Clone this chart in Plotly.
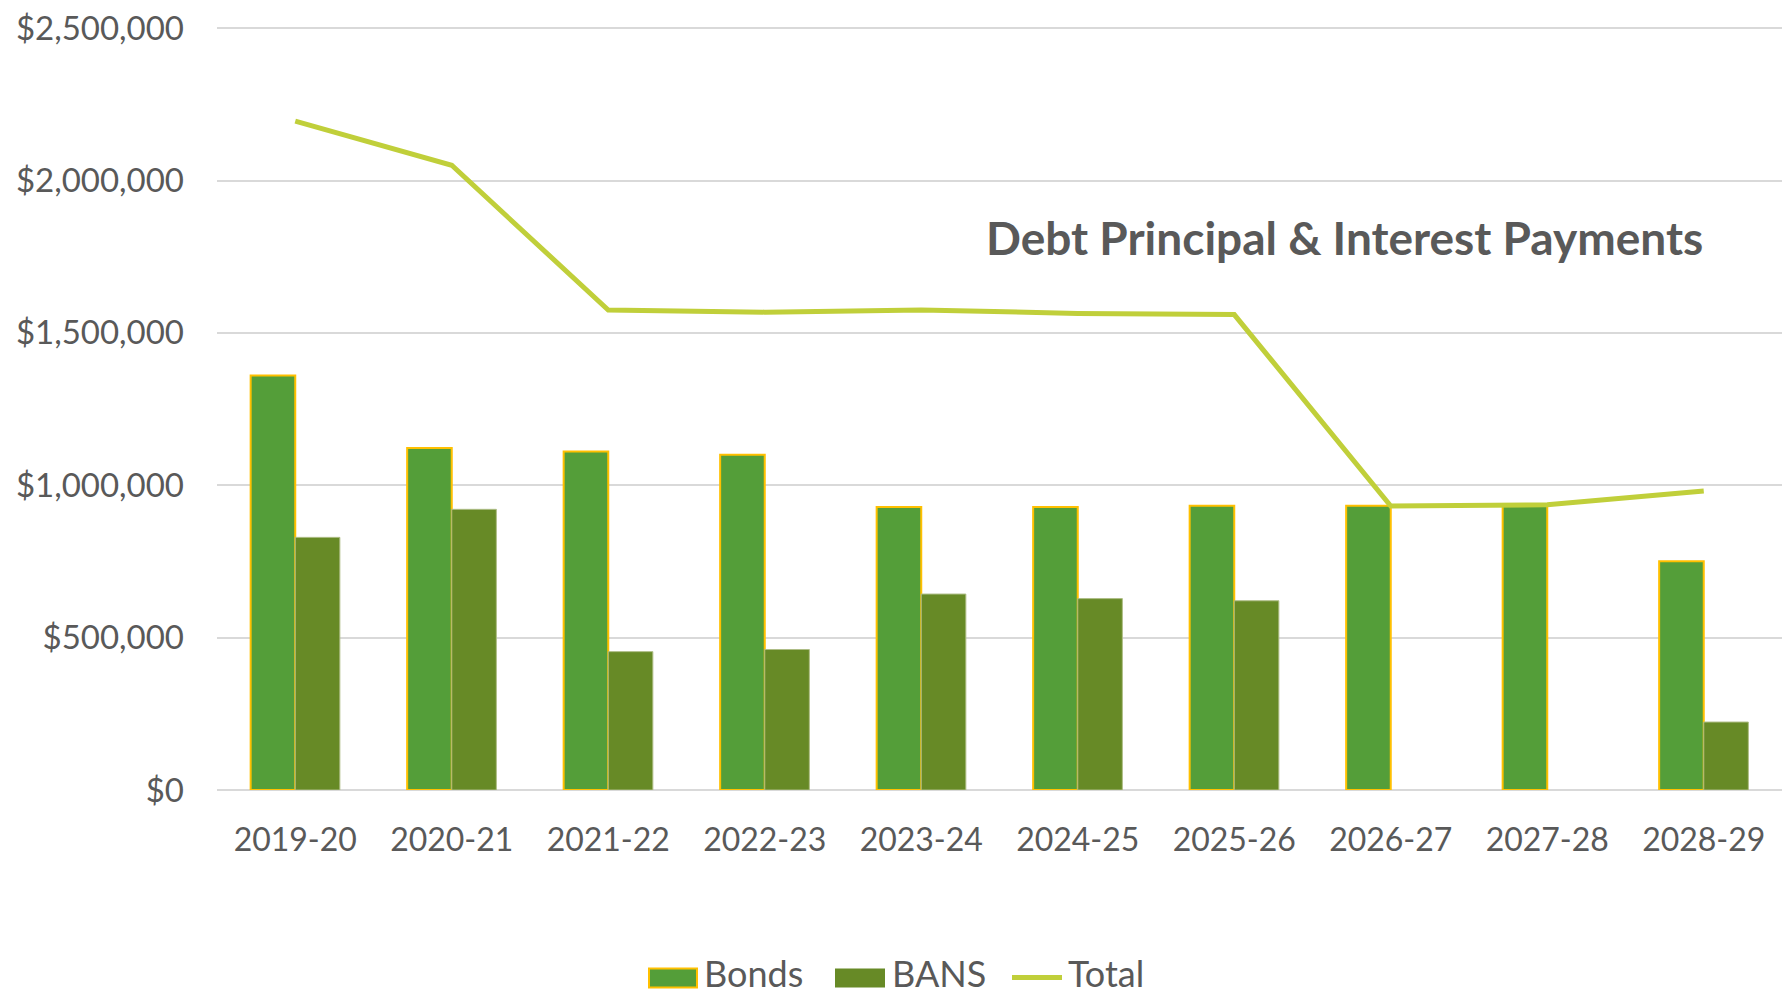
import plotly.graph_objects as go

# Fiscal years and payment amounts (USD)
years = ["2019-20", "2020-21", "2021-22", "2022-23", "2023-24",
         "2024-25", "2025-26", "2026-27", "2027-28", "2028-29"]
bonds = [1360000, 1122000, 1111000, 1100000, 929000,
         929000, 933000, 933000, 933000, 751000]
bans = [829000, 921000, 454000, 461000, 643000,
        628000, 621000, 0, 0, 223000]
total = [2195000, 2050000, 1575000, 1568000, 1575000,
         1564000, 1560000, 932000, 936000, 981000]

y_ticks = [0, 500000, 1000000, 1500000, 2000000, 2500000]
y_tick_labels = ["$0", "$500,000", "$1,000,000", "$1,500,000",
                 "$2,000,000", "$2,500,000"]
y_max = 2507000  # a little headroom so the top gridline is kept

BONDS_COLOR = "#549E39"
BONDS_EDGE = "#FFC000"
BANS_COLOR = "#678A26"
BANS_EDGE = "#AEBD86"
TOTAL_COLOR = "#C0CF3A"
TEXT_COLOR = "#595959"
GRID_COLOR = "#D9D9D9"
FONT = "Lato, 'Open Sans', sans-serif"

W, H = 1789, 999
M_L, M_R, M_T, M_B = 217, 7, 20, 209
PLOT_W = W - M_L - M_R
PLOT_H = H - M_T - M_B


def px_x(x):
    return (x - M_L) / PLOT_W


def px_y(y):
    return (H - M_B - y) / PLOT_H


fig = go.Figure()
fig.add_trace(go.Bar(
    name="Bonds", x=years, y=bonds,
    marker=dict(color=BONDS_COLOR, line=dict(color=BONDS_EDGE, width=2)),
))
fig.add_trace(go.Bar(
    name="BANS", x=years, y=bans,
    marker=dict(color=BANS_COLOR,
                line=dict(color=BANS_EDGE,
                          width=[1 if v else 0 for v in bans])),
))
fig.add_trace(go.Scatter(
    name="Total", x=years, y=total, mode="lines",
    line=dict(color=TOTAL_COLOR, width=5),
))

# Legend drawn as shapes + labels along the bottom
legend_y = 979
shapes = [
    dict(type="rect", xref="paper", yref="paper",
         x0=px_x(649), x1=px_x(697), y0=px_y(legend_y + 10), y1=px_y(legend_y - 9),
         fillcolor=BONDS_COLOR, line=dict(color=BONDS_EDGE, width=2)),
    dict(type="rect", xref="paper", yref="paper",
         x0=px_x(835), x1=px_x(885), y0=px_y(legend_y + 10), y1=px_y(legend_y - 9),
         fillcolor=BANS_COLOR, line=dict(width=0)),
    dict(type="line", xref="paper", yref="paper",
         x0=px_x(1012), x1=px_x(1062), y0=px_y(legend_y), y1=px_y(legend_y),
         line=dict(color=TOTAL_COLOR, width=5)),
]
annotations = [
    dict(text=label, xref="paper", yref="paper", x=px_x(x0), y=px_y(999),
         xanchor="left", yanchor="bottom", showarrow=False,
         font=dict(family=FONT, size=36, color=TEXT_COLOR))
    for label, x0 in [("Bonds", 702), ("BANS", 890), ("Total", 1066)]
]
annotations.append(dict(
    text="<b>Debt Principal & Interest Payments</b>",
    xref="paper", yref="paper", x=px_x(1344), y=px_y(233),
    xanchor="center", yanchor="middle", showarrow=False,
    font=dict(family=FONT, size=46, color=TEXT_COLOR),
))

fig.update_layout(
    width=W, height=H,
    margin=dict(l=M_L, r=M_R, t=M_T, b=M_B),
    paper_bgcolor="white", plot_bgcolor="white",
    barmode="group", bargap=0.43, bargroupgap=0,
    showlegend=False,
    font=dict(family=FONT, color=TEXT_COLOR),
    shapes=shapes, annotations=annotations,
)
fig.update_xaxes(
    type="category", showgrid=False, showline=False, zeroline=False,
    ticks="", ticklabelstandoff=28,
    tickfont=dict(family=FONT, size=32, color=TEXT_COLOR),
)
fig.update_yaxes(
    range=[0, y_max], tickvals=y_ticks, ticktext=y_tick_labels,
    showgrid=True, gridcolor=GRID_COLOR, gridwidth=2,
    zeroline=True, zerolinecolor=GRID_COLOR, zerolinewidth=2,
    showline=False, ticks="", ticklabelstandoff=32,
    tickfont=dict(family=FONT, size=33, color=TEXT_COLOR),
)

fig.write_html("out.html")
